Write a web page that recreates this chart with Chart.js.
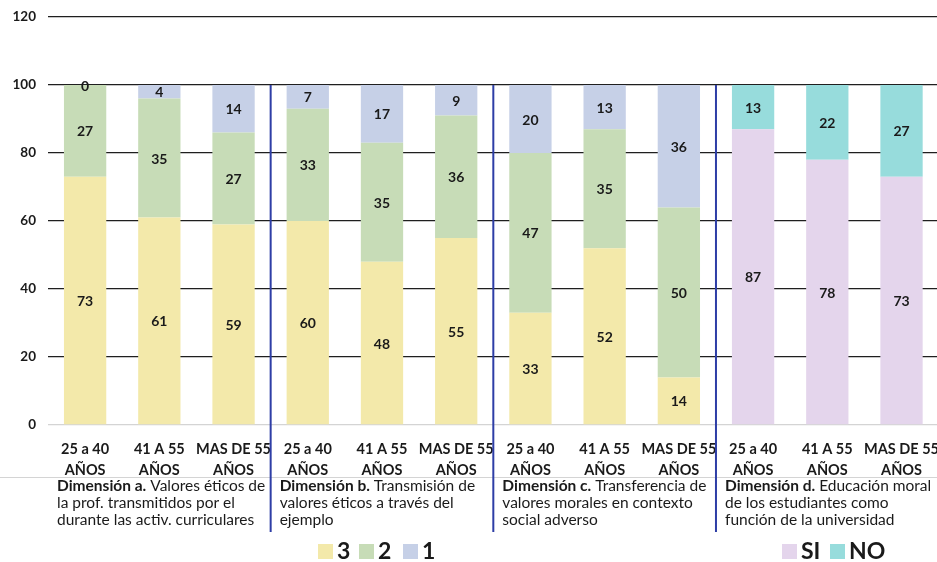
<!DOCTYPE html>
<html>
<head>
<meta charset="utf-8">
<script src="https://cdn.jsdelivr.net/npm/chart.js@4.4.1/dist/chart.umd.min.js"></script>
<style>
  html, body { margin: 0; padding: 0; background: #fff; overflow: hidden; }
  #wrap { width: 945px; height: 562px; position: relative; }
</style>
</head>
<body>
<div id="wrap"><canvas id="grafico" width="945" height="562"></canvas></div>
<script>
// Datos del gráfico
const categorias = [
    ['25 a 40', 'AÑOS'], ['41 A 55', 'AÑOS'], ['MAS DE 55', 'AÑOS'],
    ['25 a 40', 'AÑOS'], ['41 A 55', 'AÑOS'], ['MAS DE 55', 'AÑOS'],
    ['25 a 40', 'AÑOS'], ['41 A 55', 'AÑOS'], ['MAS DE 55', 'AÑOS'],
    ['25 a 40', 'AÑOS'], ['41 A 55', 'AÑOS'], ['MAS DE 55', 'AÑOS']
];
const serie3  = [73, 61, 59, 60, 48, 55, 33, 52, 14, null, null, null];
const serie2  = [27, 35, 27, 33, 35, 36, 47, 35, 50, null, null, null];
const serie1  = [0, 4, 14, 7, 17, 9, 20, 13, 36, null, null, null];
const serieSI = [null, null, null, null, null, null, null, null, null, 87, 78, 73];
const serieNO = [null, null, null, null, null, null, null, null, null, 13, 22, 27];
const ticksY = [0, 20, 40, 60, 80, 100, 120];

const dimensiones = [
    { titulo: 'Dimensión a.', lineas: [' Valores éticos de', 'la prof. transmitidos por el', 'durante las activ. curriculares'] },
    { titulo: 'Dimensión b.', lineas: [' Transmisión de', 'valores éticos a través del', 'ejemplo'] },
    { titulo: 'Dimensión c.', lineas: [' Transferencia de', 'valores morales en contexto', 'social adverso'] },
    { titulo: 'Dimensión d.', lineas: [' Educación moral', 'de los estudiantes como', 'función de la universidad'] }
];

const colores = {
    '3': '#f3e9aa',
    '2': '#c7dcb7',
    '1': '#c6d0e7',
    'SI': '#e4d5ec',
    'NO': '#97dcdc'
};

const fuente = 'Lato, "Open Sans", sans-serif';

// Etiquetas dentro de las barras
const etiquetasPlugin = {
    id: 'etiquetas',
    afterDatasetsDraw(chart) {
        const ctx = chart.ctx;
        ctx.save();
        ctx.font = 'bold 14px ' + fuente;
        ctx.fillStyle = '#1a1a1a';
        ctx.textAlign = 'center';
        ctx.textBaseline = 'middle';
        chart.data.datasets.forEach((ds, i) => {
            const meta = chart.getDatasetMeta(i);
            meta.data.forEach((bar, j) => {
                const v = ds.data[j];
                if (v === null) return;
                const y = (bar.y + bar.base) / 2;
                ctx.fillText(String(v), bar.x, y + 1);
            });
        });
        ctx.restore();
    }
};

// Separadores, descripciones y leyenda
const extrasPlugin = {
    id: 'extras',
    afterDraw(chart) {
        const ctx = chart.ctx;
        const x = chart.scales.x;
        const y = chart.scales.y;
        const paso = x.getPixelForValue(1) - x.getPixelForValue(0);

        ctx.save();
        // linea gris bajo las categorias
        ctx.strokeStyle = '#d4d4d4';
        ctx.lineWidth = 1;
        ctx.beginPath();
        ctx.moveTo(0, 477.5);
        ctx.lineTo(chart.width, 477.5);
        ctx.stroke();

        // lineas verticales azules entre dimensiones
        ctx.strokeStyle = '#2e3ea6';
        ctx.lineWidth = 2;
        [3, 6, 9].forEach(k => {
            const px = x.getPixelForValue(k) - paso / 2;
            ctx.beginPath();
            ctx.moveTo(px, y.getPixelForValue(100));
            ctx.lineTo(px, 532);
            ctx.stroke();
        });

        // textos de cada dimension
        ctx.fillStyle = '#1a1a1a';
        ctx.textAlign = 'left';
        ctx.textBaseline = 'middle';
        dimensiones.forEach((d, k) => {
            const x0 = x.getPixelForValue(k * 3) - paso / 2 + 9;
            ctx.font = 'bold 15.5px ' + fuente;
            ctx.fillText(d.titulo, x0, 486);
            const w = ctx.measureText(d.titulo).width;
            ctx.font = '15.5px ' + fuente;
            ctx.fillText(d.lineas[0], x0 + w, 486);
            ctx.fillText(d.lineas[1], x0, 503);
            ctx.fillText(d.lineas[2], x0, 520);
        });

        // leyenda
        const leyenda = [
            { t: '3', c: colores['3'], x: 318 },
            { t: '2', c: colores['2'], x: 359 },
            { t: '1', c: colores['1'], x: 403 },
            { t: 'SI', c: colores['SI'], x: 782 },
            { t: 'NO', c: colores['NO'], x: 830 }
        ];
        ctx.font = 'bold 23px ' + fuente;
        leyenda.forEach(l => {
            ctx.fillStyle = l.c;
            ctx.fillRect(l.x, 544, 15, 15);
            ctx.fillStyle = '#1a1a1a';
            ctx.fillText(l.t, l.x + 19, 552);
        });
        ctx.restore();
    }
};

function serie(label, datos) {
    return {
        label: label,
        data: datos,
        backgroundColor: colores[label],
        borderWidth: 0,
        stack: 'total',
        barPercentage: 0.57,
        categoryPercentage: 1
    };
}

new Chart(document.getElementById('grafico'), {
    type: 'bar',
    data: {
        labels: categorias,
        datasets: [
            serie('3', serie3),
            serie('2', serie2),
            serie('1', serie1),
            serie('SI', serieSI),
            serie('NO', serieNO)
        ]
    },
    options: {
        responsive: false,
        animation: false,
        layout: { padding: { top: 17, bottom: 82, left: 0, right: 0 } },
        plugins: {
            legend: { display: false },
            tooltip: { enabled: false }
        },
        scales: {
            x: {
                stacked: true,
                grid: { display: false },
                border: { display: false },
                afterFit: s => { s.height = 55; },
                ticks: {
                    color: '#1a1a1a',
                    font: { family: fuente, size: 14.5, weight: 'bold', lineHeight: 1.45 },
                    padding: 6,
                    maxRotation: 0,
                    autoSkip: false
                }
            },
            y: {
                stacked: true,
                min: 0,
                max: 120,
                afterBuildTicks: s => { s.ticks = ticksY.map(v => ({ value: v })); },
                afterFit: s => { s.width = 48; s.paddingTop = 0; s.paddingBottom = 0; },
                border: { display: false },
                grid: {
                    drawTicks: false,
                    lineWidth: 1.3,
                    color: c => c.tick && c.tick.value === 0 ? '#d4d4d4' : '#1f1f1f'
                },
                ticks: {
                    color: '#1a1a1a',
                    padding: 12,
                    font: { family: fuente, size: 13.5, weight: 'bold' }
                }
            }
        }
    },
    plugins: [etiquetasPlugin, extrasPlugin]
});
</script>
</body>
</html>
